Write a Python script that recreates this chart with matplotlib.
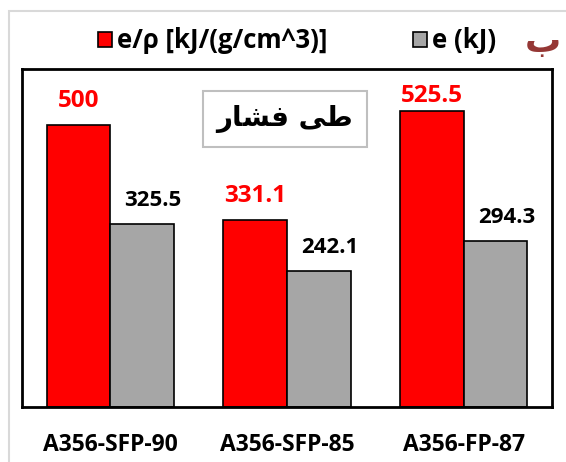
import numpy as np
import matplotlib.pyplot as plt
from matplotlib.patches import Patch, Rectangle

# داده‌ها
categories = ['A356-SFP-90', 'A356-SFP-85', 'A356-FP-87']
e_rho = [500, 331.1, 525.5]
e_kj = [325.5, 242.1, 294.3]
legend_labels = ['e/ρ [kJ/(g/cm^3)]', 'e (kJ)']
box_title = 'طی فشار'
panel_letter = 'ب'

red = '#FF0000'
gray = '#A6A6A6'

plt.rcParams['font.family'] = ['Open Sans', 'DejaVu Sans']
plt.rcParams['font.weight'] = 'bold'


def shape_farsi(text):
    # matplotlib has no arabic shaping, so use presentation forms in visual order
    forms = {'ط': 'ﻃ', 'ی': 'ﯽ', 'ف': 'ﻓ', 'ش': 'ﺸ', 'ا': 'ﺎ', 'ر': 'ﺭ'}
    words = text.split(' ')
    shaped = [''.join(forms.get(c, c) for c in w)[::-1] for w in words]
    return ' '.join(shaped[::-1])


fig = plt.figure(figsize=(5.66, 4.62), dpi=100)
ax = fig.add_axes([22 / 566, 1 - 407 / 462, 530 / 566, 338 / 462])

x = np.arange(len(categories))
w = 0.36
ax.bar(x - w / 2, e_rho, w, color=red, edgecolor='black', linewidth=1.2)
ax.bar(x + w / 2, e_kj, w, color=gray, edgecolor='black', linewidth=1.2)

ax.set_xlim(-0.5, 2.5)
ax.set_ylim(0, 600)
ax.set_yticks([])
ax.set_xticks(x)
ax.set_xticklabels(categories, fontsize=16.5, fontweight='bold')
ax.tick_params(axis='x', length=0, pad=19)
for s in ax.spines.values():
    s.set_linewidth(2)
    s.set_color('black')

# برچسب مقادیر (مثل اکسل، بالای ناحیه نمودار محدود می‌شود)
gap = 32
cap = 542
for xi, v in zip(x, e_rho):
    ax.annotate(f'{v:g}', (xi - w / 2, min(v + gap, cap)), ha='center', va='baseline',
                color=red, fontsize=17.5, fontweight='bold')
for xi, v in zip(x, e_kj):
    ax.annotate(f'{v:g}', (xi + w / 2, min(v + gap, cap)), xytext=(8, 0), textcoords='offset points',
                ha='center', va='baseline', color='black', fontsize=16, fontweight='bold')

ax.text(285 / 566, 1 - 119 / 462, shape_farsi(box_title), transform=fig.transFigure,
        ha='center', va='center', fontsize=20, fontweight='bold', family=['DejaVu Sans'],
        bbox=dict(boxstyle='square,pad=0.5', facecolor='white', edgecolor='#BFBFBF', linewidth=1.5))

handles = [Patch(facecolor=red, edgecolor='black', linewidth=1.2),
           Patch(facecolor=gray, edgecolor='black', linewidth=1.2)]
fig.legend(handles, legend_labels, loc='center', bbox_to_anchor=(297 / 566, 1 - 41 / 462), ncol=2,
           frameon=False, handlelength=0.55, handleheight=0.55, handletextpad=0.2,
           columnspacing=3.3, prop={'weight': 'bold', 'size': 18.5})

fig.text(543 / 566, 1 - 42 / 462, panel_letter, ha='center', va='center', fontsize=26,
         fontweight='bold', color='#953735', family=['DejaVu Sans'])

# قاب بیرونی نمودار
fig.patches.append(Rectangle((9 / 566, -0.1), 1.2, 1 - 11 / 462 + 0.1, transform=fig.transFigure,
                             fill=False, edgecolor='#D9D9D9', linewidth=1.5))

fig.savefig('out.png', dpi=100)
